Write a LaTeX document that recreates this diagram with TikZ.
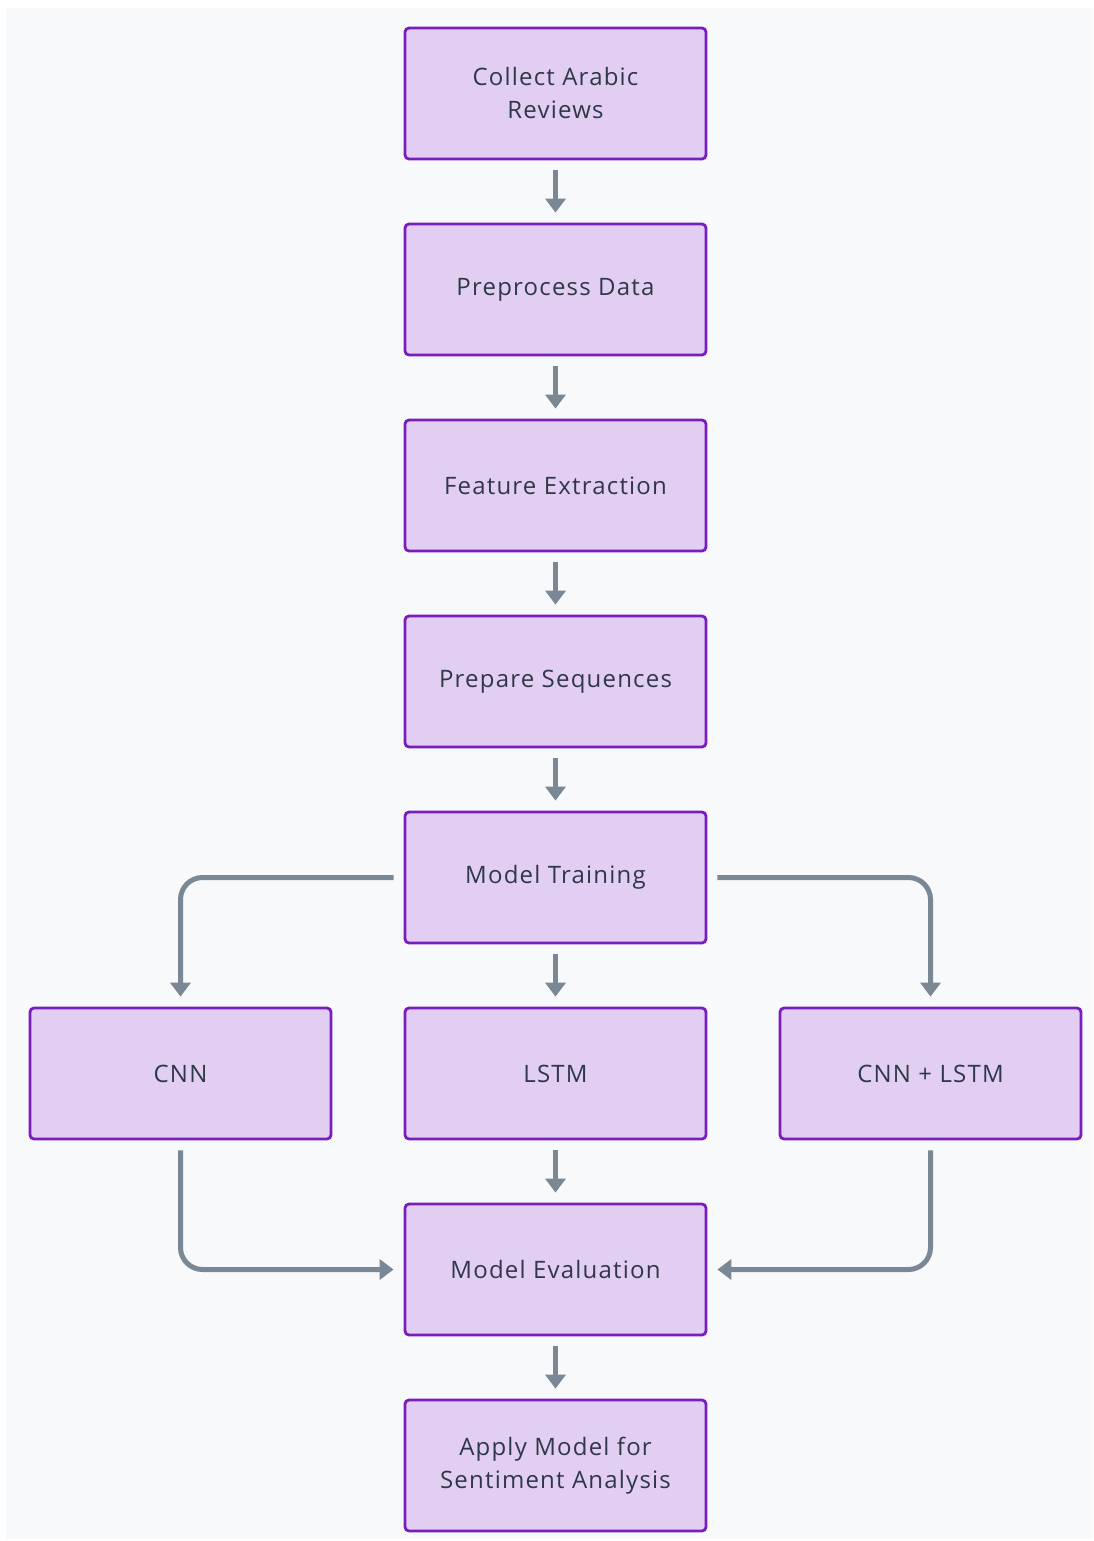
\documentclass[tikz,border=0pt]{standalone}
\usepackage{fontspec}
\setmainfont[LetterSpace=5, Ligatures={NoCommon}]{Open Sans}
\usepackage{tikz}
\usetikzlibrary{positioning,arrows.meta}

\definecolor{boxfill}{HTML}{E3CEF3}
\definecolor{boxline}{HTML}{7A1DBE}
\definecolor{arrowgray}{HTML}{7A8896}
\definecolor{txtgray}{HTML}{2F3848}
\definecolor{bggray}{HTML}{F8F9FA}

\begin{document}
\begin{tikzpicture}[x=0.5pt, y=-0.5pt,
  node distance=31.1pt and 35.6pt,
  stepbox/.style={draw=boxline, fill=boxfill, line width=1.4pt,
    rounded corners=2pt, minimum width=150.5pt, minimum height=65.5pt,
    align=center, text=txtgray, font=\fontsize{12pt}{16.5pt}\selectfont},
  flow/.style={draw=arrowgray, line width=2.5pt, rounded corners=11pt,
    shorten <=5pt, shorten >=5pt,
    -{Triangle[width=10pt,length=7pt]}}]

  % Canvas
  \useasboundingbox (0,0) rectangle (1093,1541);
  \fill[white] (0,0) rectangle (1093,1541);
  \fill[bggray] (6,8) rectangle (1093,1539);

  % Define nodes
  \node[stepbox] at (555.5,93.5) (collect) {Collect Arabic\\Reviews};
  \node[stepbox, below=of collect] (prep)  {Preprocess Data};
  \node[stepbox, below=of prep]    (feat)  {Feature Extraction};
  \node[stepbox, below=of feat]    (seq)   {Prepare Sequences};
  \node[stepbox, below=of seq]     (train) {Model Training};
  \node[stepbox, below=of train]   (lstm)  {LSTM};
  \node[stepbox, left=of lstm]     (cnn)   {CNN};
  \node[stepbox, right=of lstm]    (mix)   {CNN + LSTM};
  \node[stepbox, below=of lstm]    (eval)  {Model Evaluation};
  \node[stepbox, below=of eval]    (apply) {Apply Model for\\Sentiment Analysis};

  % Connect the nodes
  \draw[flow] (collect) -- (prep);
  \draw[flow] (prep) -- (feat);
  \draw[flow] (feat) -- (seq);
  \draw[flow] (seq) -- (train);
  \draw[flow] (train) -- (lstm);
  \draw[flow] (train.west) -| (cnn.north);
  \draw[flow] (train.east) -| (mix.north);
  \draw[flow] (lstm) -- (eval);
  \draw[flow] (cnn.south) |- (eval.west);
  \draw[flow] (mix.south) |- (eval.east);
  \draw[flow] (eval) -- (apply);

\end{tikzpicture}
\end{document}
